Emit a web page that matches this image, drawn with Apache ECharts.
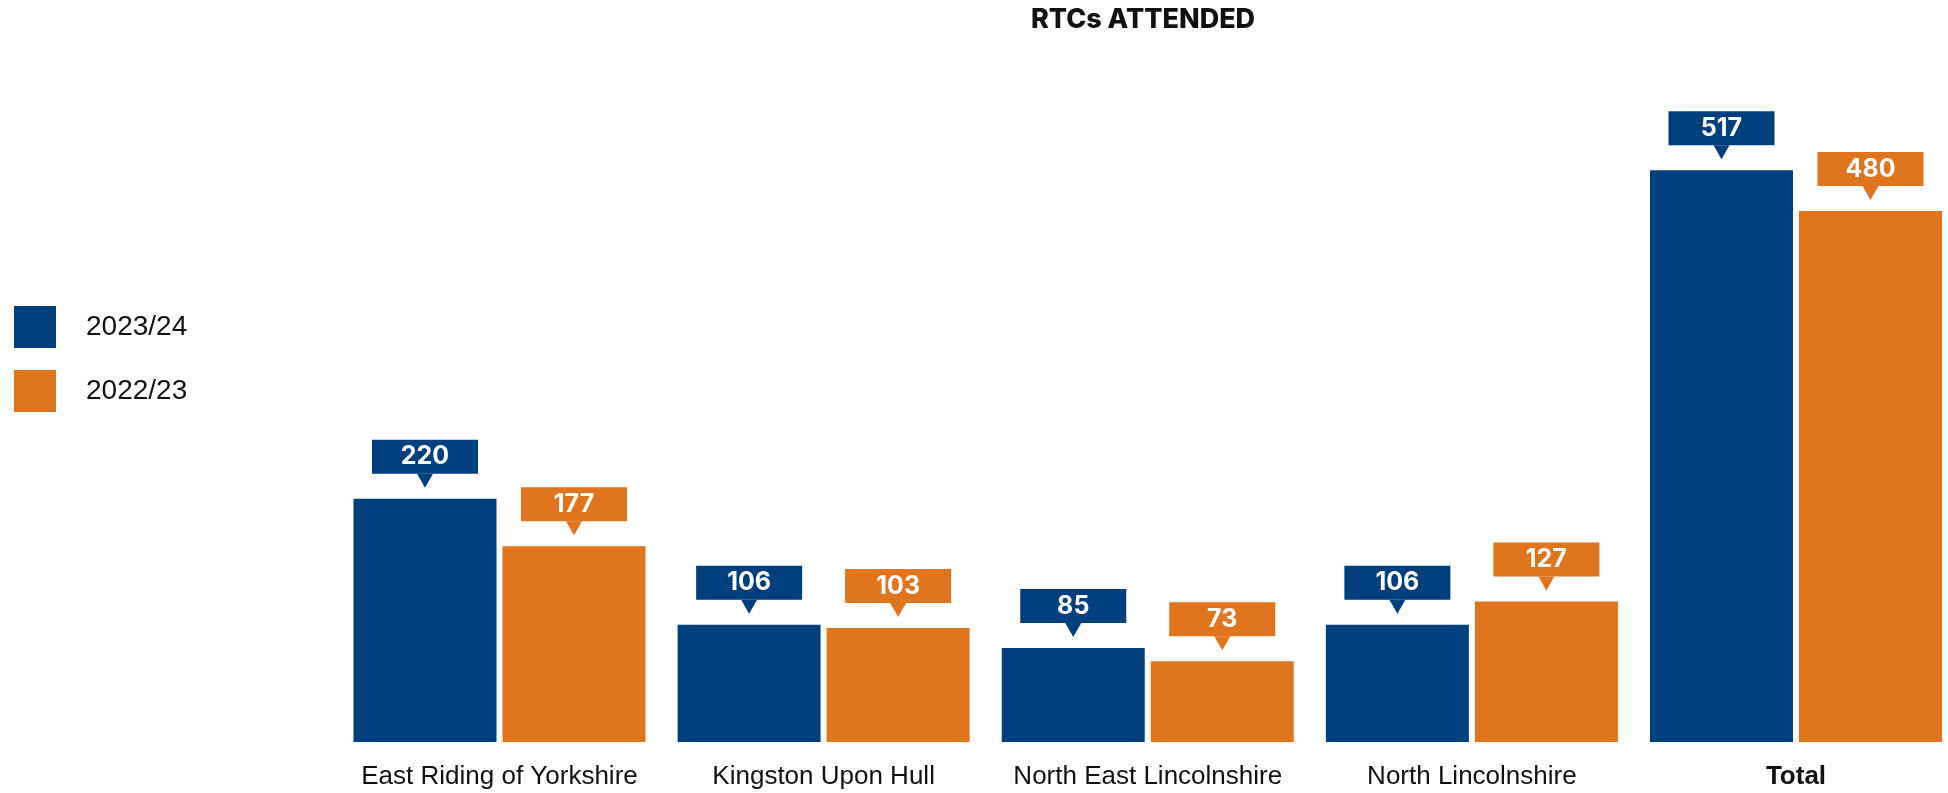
<!DOCTYPE html>
<html>
<head>
<meta charset="utf-8">
<title>RTCs ATTENDED</title>
<script src="https://cdn.jsdelivr.net/npm/echarts@6/dist/echarts.min.js"></script>
<style>
  html, body { margin: 0; padding: 0; background: #ffffff; }
  #chart { width: 1948px; height: 793px; }
</style>
</head>
<body>
<div id="chart"></div>
<script>
// Road traffic collisions attended, by area and year
const categories = ['East Riding of Yorkshire', 'Kingston Upon Hull', 'North East Lincolnshire', 'North Lincolnshire', 'Total'];
const seriesNames = ['2023/24', '2022/23'];
const values2324 = [220, 106, 85, 106, 517];
const values2223 = [177, 103, 73, 127, 480];

const BLUE = '#003f7d';
const ORANGE = '#e0751d';

const BAR_W = 143;
const BAR_GAP = 6;
const ARROW_GAP = 11;   // space between pointer tip and bar top
const ARROW_H = 14;
const ARROW_W = 16;
const half = (BAR_W + BAR_GAP) / 2;

const downArrow = 'path://M0,0 L16,0 L8,14 Z';

function barSeries(name, data, color) {
  return {
    name: name,
    type: 'bar',
    data: data,
    barWidth: BAR_W,
    barGap: (BAR_GAP / BAR_W * 100).toFixed(2) + '%',
    itemStyle: { color: color },
    label: {
      show: true,
      position: 'top',
      distance: ARROW_GAP + ARROW_H,
      backgroundColor: color,
      color: '#ffffff',
      fontFamily: 'Inter',
      fontWeight: 700,
      fontSize: 25,
      width: 106,
      height: 34,
      lineHeight: 34,
      padding: 0,
      align: 'center'
    },
    emphasis: { disabled: true },
    z: 2
  };
}

function pointerSeries(data, color, dx) {
  return {
    type: 'scatter',
    data: data,
    symbol: downArrow,
    symbolSize: [ARROW_W, ARROW_H],
    symbolKeepAspect: false,
    symbolOffset: [dx, -(ARROW_GAP + ARROW_H / 2)],
    itemStyle: { color: color, opacity: 1 },
    silent: true,
    z: 3
  };
}

const chart = echarts.init(document.getElementById('chart'), null, { renderer: 'canvas' });

chart.setOption({
  animation: false,
  backgroundColor: '#ffffff',
  graphic: [{
    type: 'text',
    x: 1143,
    y: 19.5,
    style: {
      text: 'RTCs ATTENDED',
      fill: '#111111',
      font: '800 27px Inter',
      align: 'center',
      verticalAlign: 'middle',
      textAlign: 'center',
      textVerticalAlign: 'middle'
    }
  }],
  legend: {
    data: seriesNames,
    orient: 'vertical',
    left: 14,
    top: 306,
    padding: 0,
    icon: 'rect',
    itemWidth: 42,
    itemHeight: 42,
    itemGap: 22,
    selectedMode: false,
    textStyle: {
      fontFamily: 'Liberation Sans',
      fontSize: 28,
      color: '#111111',
      padding: [0, 0, 0, 25]
    }
  },
  // category points sit on the grid edges, one band (324px) apart
  grid: {
    left: 499.5,
    right: 152,
    top: 78.4,
    bottom: 51,
    containLabel: false
  },
  xAxis: {
    type: 'category',
    data: categories,
    boundaryGap: false,
    axisLine: { show: false },
    axisTick: { show: false },
    axisLabel: {
      margin: 22,
      interval: 0,
      fontFamily: 'Liberation Sans',
      fontSize: 26,
      color: '#111111',
      formatter: function (v) { return v === 'Total' ? '{b|' + v + '}' : v; },
      rich: {
        b: { fontFamily: 'Liberation Sans', fontSize: 26, fontWeight: 'bold', color: '#111111' }
      }
    }
  },
  yAxis: {
    type: 'value',
    min: 0,
    max: 600,
    show: false,
    splitLine: { show: false }
  },
  series: [
    barSeries(seriesNames[0], values2324, BLUE),
    barSeries(seriesNames[1], values2223, ORANGE),
    pointerSeries(values2324, BLUE, -half),
    pointerSeries(values2223, ORANGE, half)
  ]
});
</script>
</body>
</html>
